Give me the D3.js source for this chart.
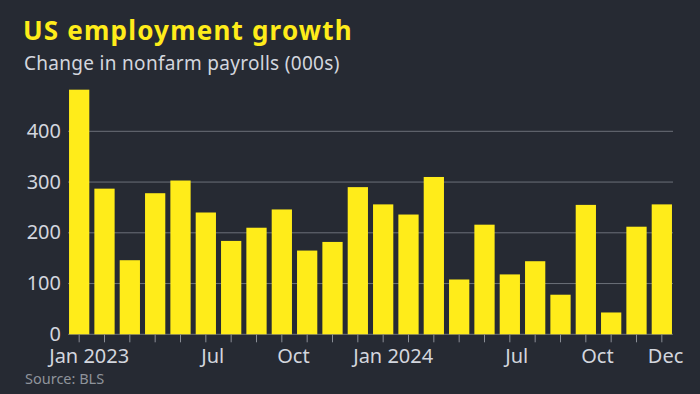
<!DOCTYPE html>
<html>
<head>
<meta charset="utf-8">
<script src="https://cdn.jsdelivr.net/npm/d3@7"></script>
<style>
  html, body { margin: 0; padding: 0; background: #262a33; }
  svg { display: block; }
</style>
</head>
<body>
<svg id="chart" width="700" height="394"></svg>
<script>
  // Monthly change in nonfarm payrolls, thousands
  const months = [
    '2023-01', '2023-02', '2023-03', '2023-04', '2023-05', '2023-06',
    '2023-07', '2023-08', '2023-09', '2023-10', '2023-11', '2023-12',
    '2024-01', '2024-02', '2024-03', '2024-04', '2024-05', '2024-06',
    '2024-07', '2024-08', '2024-09', '2024-10', '2024-11', '2024-12'
  ];
  const payrolls = [
    482, 287, 146, 278, 303, 240, 184, 210, 246, 165, 182, 290,
    256, 236, 310, 108, 216, 118, 144, 78, 255, 43, 212, 256
  ];
  const xTickMonths = ['2023-01', '2023-07', '2023-10', '2024-01', '2024-07', '2024-10', '2024-12'];
  const xTickLabels = ['Jan 2023', 'Jul', 'Oct', 'Jan 2024', 'Jul', 'Oct', 'Dec'];
  const yTicks = [0, 100, 200, 300, 400];

  const colors = {
    bg: '#262a33',
    bar: '#ffec1a',
    title: '#ffec1a',
    text: '#d3d6de',
    grid: '#6c7079',
    tick: '#8a8e96',
    source: '#8e939b'
  };
  const font = '"Noto Sans", "Open Sans", sans-serif';

  const svg = d3.select('#chart');
  const plot = { left: 68, right: 673, top: 131.3, bottom: 334.3 };

  svg.append('rect')
    .attr('width', 700).attr('height', 394)
    .attr('fill', colors.bg);

  // Titles (the original face is wider, so open the spacing a little)
  svg.append('text')
    .attr('x', 23).attr('y', 39.5)
    .style('font-family', font).style('font-weight', 700)
    .style('font-size', '26px').style('letter-spacing', '1.2px')
    .attr('fill', colors.title)
    .text('US employment growth');

  svg.append('text')
    .attr('x', 24).attr('y', 70)
    .style('font-family', font).style('font-size', '19px')
    .style('letter-spacing', '0.3px')
    .attr('fill', colors.text)
    .text('Change in nonfarm payrolls (000s)');

  svg.append('text')
    .attr('x', 25).attr('y', 383.5)
    .style('font-family', font).style('font-size', '14.5px')
    .attr('fill', colors.source)
    .text('Source: BLS');

  // Scales
  const x = d3.scaleBand()
    .domain(months)
    .range([66.5, 674.5])
    .paddingInner(0.2)
    .paddingOuter(0.1);

  const y = d3.scaleLinear()
    .domain([0, 400])
    .range([plot.bottom, plot.top]);

  // Gridlines
  svg.append('g')
    .selectAll('line')
    .data(yTicks)
    .join('line')
    .attr('x1', plot.left).attr('x2', plot.right)
    .attr('y1', d => y(d)).attr('y2', d => y(d))
    .attr('stroke', colors.grid)
    .attr('stroke-width', 1);

  // Bars
  svg.append('g')
    .selectAll('rect')
    .data(months)
    .join('rect')
    .attr('x', d => x(d))
    .attr('width', x.bandwidth())
    .attr('y', (d, i) => y(payrolls[i]))
    .attr('height', (d, i) => y(0) - y(payrolls[i]))
    .attr('fill', colors.bar);

  // Y axis labels
  const yAxis = svg.append('g')
    .attr('transform', `translate(${plot.left},0)`)
    .call(d3.axisLeft(y).tickValues(yTicks).tickSize(0).tickPadding(7));
  yAxis.select('.domain').remove();
  yAxis.selectAll('text')
    .style('font-family', font).style('font-size', '20px')
    .attr('fill', colors.text)
    .attr('dy', '0.3em');

  // X axis: a tick under every bar, labels on a few months
  const labelFor = new Map(xTickMonths.map((m, i) => [m, xTickLabels[i]]));
  const xAxis = svg.append('g')
    .attr('transform', `translate(0,${plot.bottom})`)
    .call(d3.axisBottom(x).tickValues(months)
      .tickSize(8).tickPadding(7)
      .tickFormat(m => labelFor.get(m) || ''));
  xAxis.select('.domain').remove();
  xAxis.selectAll('line').attr('stroke', colors.tick);
  xAxis.selectAll('text')
    .style('font-family', font).style('font-size', '20px')
    .attr('fill', colors.text)
    .attr('text-anchor', 'start')
    .attr('x', -30);
  // last label is pulled in against the right edge
  xAxis.selectAll('text')
    .filter(m => m === months[months.length - 1])
    .attr('text-anchor', 'end')
    .attr('x', 21.5);
</script>
</body>
</html>
